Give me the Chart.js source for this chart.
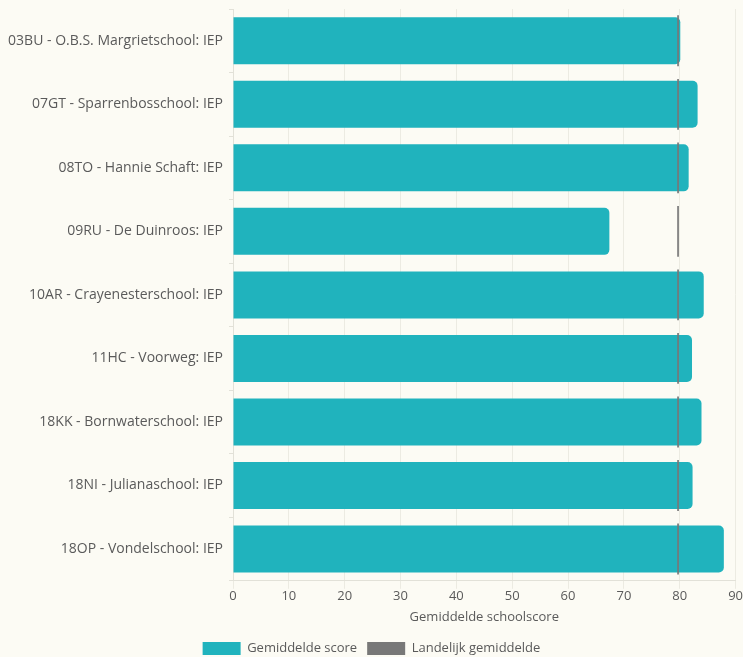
<!DOCTYPE html>
<html>
<head>
<meta charset="utf-8">
<script src="https://cdn.jsdelivr.net/npm/chart.js@4.4.1/dist/chart.umd.min.js"></script>
<style>
  html, body { margin: 0; padding: 0; background: #fcfbf4; }
  #wrap { width: 743px; height: 657px; position: relative; }
</style>
</head>
<body>
<div id="wrap"><canvas id="bar-chart"></canvas></div>
<script>
const schools = [
  '03BU - O.B.S. Margrietschool: IEP',
  '07GT - Sparrenbosschool: IEP',
  '08TO - Hannie Schaft: IEP',
  '09RU - De Duinroos: IEP',
  '10AR - Crayenesterschool: IEP',
  '11HC - Voorweg: IEP',
  '18KK - Bornwaterschool: IEP',
  '18NI - Julianaschool: IEP',
  '18OP - Vondelschool: IEP'
]
const schoolScores = [80.1, 83.2, 81.6, 67.4, 84.3, 82.2, 83.9, 82.3, 87.9]
const nationalAvg = [79.7, 79.7, 79.7, 79.7, 79.7, 79.7, 79.7, 79.7, 79.7]

const TEAL = '#20b3bd'
const GREY = '#787878'
const TEXT = '#5a5a5a'
Chart.defaults.font.family = "'Open Sans', sans-serif"
Chart.defaults.font.size = 13
Chart.defaults.color = TEXT

const ctx = document.getElementById('bar-chart').getContext('2d')
new Chart(ctx, {
  type: 'bar',
  data: {
    labels: schools,
    datasets: [{
      label: 'Gemiddelde score',
      data: schoolScores,
      backgroundColor: TEAL,
      borderRadius: 5,
      borderSkipped: 'start',
      barPercentage: 0.74,
      categoryPercentage: 1,
      grouped: false,
      order: 1
    }, {
      label: 'Landelijk gemiddelde',
      // thin floating bar marks the national average
      data: nationalAvg.map(v => [v - 0.15, v + 0.15]),
      backgroundColor: GREY,
      barPercentage: 0.8,
      categoryPercentage: 1,
      grouped: false,
      order: 0
    }]
  },
  options: {
    indexAxis: 'y',
    responsive: true,
    maintainAspectRatio: false,
    animation: false,
    layout: { padding: { top: 9, right: 0, bottom: -8, left: 0 } },
    scales: {
      x: {
        min: 0,
        max: 90,
        ticks: { stepSize: 10, padding: 0, color: TEXT },
        grid: { color: '#ecebe2', tickLength: 8 },
        border: { color: '#e2e1d8' },
        title: { display: true, text: 'Gemiddelde schoolscore', color: TEXT, padding: { top: 5, bottom: 7 } }
      },
      y: {
        afterFit: (scale) => {
          scale.width = 233
          scale.paddingTop = 0
        },
        ticks: { color: TEXT, padding: 6, font: { size: 14 } },
        grid: { drawOnChartArea: false, color: '#e2e1d8', tickLength: 4 },
        border: { color: '#e2e1d8' }
      }
    },
    plugins: {
      legend: {
        position: 'bottom',
        labels: {
          boxWidth: 38,
          boxHeight: 13,
          padding: 10,
          color: TEXT,
          sort: (a, b) => a.datasetIndex - b.datasetIndex
        }
      },
      tooltip: { enabled: false }
    }
  }
})
</script>
</body>
</html>
